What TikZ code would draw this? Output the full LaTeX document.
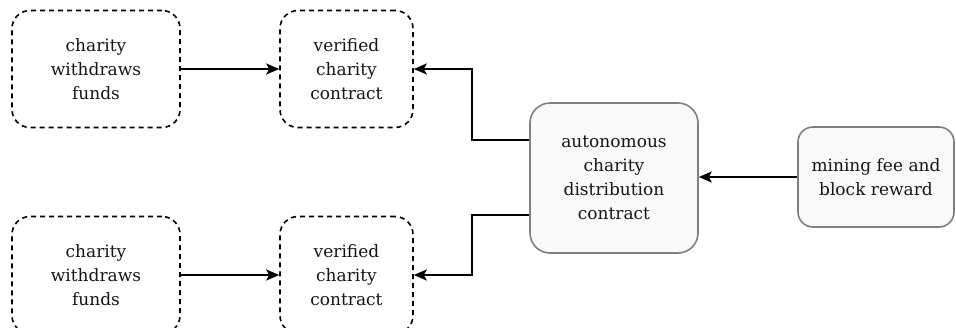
\documentclass[tikz,border=0pt]{standalone}
\usepackage{fontspec}
\setmainfont{DejaVu Serif}
\usetikzlibrary{arrows.meta}
\definecolor{txt}{HTML}{151515}
\definecolor{boxline}{HTML}{7F7F7F}
\definecolor{boxfill}{HTML}{FAFAFA}
\tikzset{
  box/.style={rectangle, align=center, text=txt, inner sep=0pt,
    font=\fontsize{17}{24}\selectfont},
  dbox/.style={box, draw=black, dash pattern=on 5pt off 4pt,
    line width=1.6pt, rounded corners=18pt,
    minimum width=168pt, minimum height=117pt},
  vbox/.style={dbox, minimum width=133pt},
  sbox/.style={box, draw=boxline, fill=boxfill, line width=1.6pt},
  arr/.style={line width=2pt, -{Stealth[length=13pt, width=11pt, inset=3pt]}}
}
\begin{document}
\begin{tikzpicture}[x=1pt, y=-1pt]
\useasboundingbox (0,0) rectangle (956,327);
\clip (0,0) rectangle (956,327);
% withdrawing charities and their contracts
\node[dbox] (w1) at (96,69) {charity\\withdraws\\funds};
\node[vbox] (v1) at (346.5,69) {verified\\charity\\contract};
\node[dbox] (w2) at (96,275) {charity\\withdraws\\funds};
\node[vbox] (v2) at (346.5,275) {verified\\charity\\contract};
% distribution contract and reward source
\node[sbox, rounded corners=20pt, minimum width=168pt, minimum height=150pt]
  (c) at (614,178) {autonomous\\charity\\distribution\\contract};
\node[sbox, rounded corners=15pt, minimum width=156pt, minimum height=100pt]
  (r) at (876,177) {mining fee and\\block reward};
% connectors
\coordinate (ct) at (c.west |- 0,140);
\coordinate (cb) at (c.west |- 0,215);
\draw[arr] (w1) -- (v1);
\draw[arr] (w2) -- (v2);
\draw[arr] (ct) -- (472,140) |- (v1.east);
\draw[arr] (cb) -- (472,215) |- (v2.east);
\draw[arr] (r.west) -- (r.west -| c.east);
\end{tikzpicture}
\end{document}
